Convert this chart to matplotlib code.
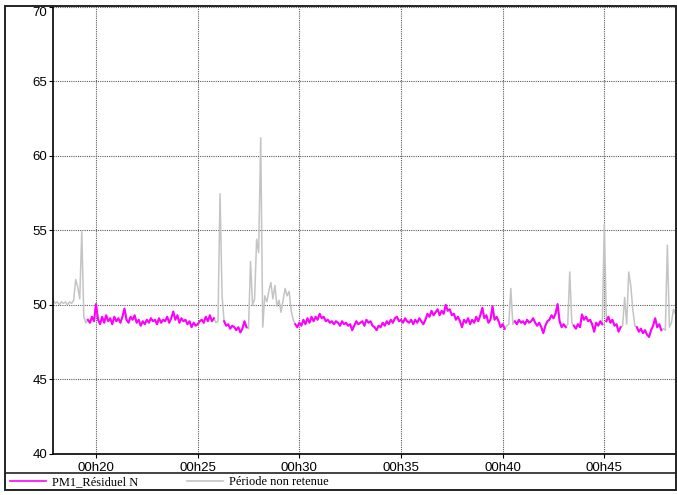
import numpy as np
import matplotlib
matplotlib.use('Agg')
import matplotlib.pyplot as plt
from matplotlib.ticker import MultipleLocator, FuncFormatter
from matplotlib.patches import Rectangle
from matplotlib.lines import Line2D


######################################################################################
# Data: one sample every 6 s (0.1 min), starting at 00h17.9
######################################################################################

t_start = 17.9   # minutes after 00h00
t_step = 0.1     # minutes

level = [
    50.3, 50.1, 50.2, 50.0, 50.2, 50.1, 50.2, 50.0, 50.2, 50.1,
    50.3, 51.7, 51.2, 50.4, 54.9, 49.2, 48.8, 49.0, 48.8, 49.2,
    48.9, 50.05, 49.0, 48.7, 49.2, 48.8, 49.3, 48.9, 49.1, 48.7,
    49.2, 48.9, 49.1, 48.8, 49.2, 49.75, 49.0, 48.8, 49.2, 49.0,
    49.3, 48.8, 49.0, 48.6, 48.9, 48.7, 49.0, 48.8, 49.1, 48.9,
    49.0, 48.7, 49.1, 48.8, 49.0, 48.9, 49.2, 48.8, 49.1, 49.55,
    49.0, 49.3, 48.8, 49.1, 48.9, 49.0, 48.7, 48.9, 48.5, 48.8,
    48.6, 48.7, 48.9, 49.0, 48.8, 49.2, 48.9, 49.3, 48.9, 49.1,
    48.8, 48.9, 57.45, 50.6, 48.9, 48.6, 48.7, 48.4, 48.6, 48.5,
    48.3, 48.5, 48.15, 48.4, 48.9, 48.5, 48.4, 52.9, 50.0, 50.4,
    54.4, 53.5, 61.2, 48.5, 50.6, 50.2, 50.9, 51.5, 50.4, 51.3,
    49.9, 50.3, 49.5, 50.3, 51.1, 50.6, 50.9, 49.6, 49.0, 48.7,
    48.5, 48.8, 48.6, 49.0, 48.7, 49.1, 48.8, 49.2, 48.9, 49.2,
    49.0, 49.4, 49.1, 49.2, 48.9, 49.0, 48.8, 48.9, 48.7, 48.9,
    48.8, 48.6, 48.9, 48.7, 48.8, 48.6, 48.7, 48.3, 48.6, 48.9,
    48.7, 48.8, 48.9, 48.6, 49.0, 48.8, 48.9, 48.6, 48.5, 48.3,
    48.6, 48.5, 48.8, 48.6, 48.9, 48.7, 49.0, 48.8, 49.1, 49.2,
    48.9, 49.0, 48.8, 49.1, 48.9, 48.8, 49.0, 48.7, 49.0, 48.8,
    49.1, 48.9, 48.7, 49.0, 49.4, 49.2, 49.6, 49.3, 49.5, 49.7,
    49.3, 49.6, 49.4, 50.0, 49.6, 49.7, 49.3, 49.4, 49.0, 49.2,
    48.9, 48.5, 49.0, 48.8, 49.1, 48.7, 49.0, 48.8, 49.2, 48.9,
    49.3, 49.8, 49.1, 49.3, 48.8, 49.0, 49.9, 49.0, 49.2, 48.9,
    48.5, 48.7, 48.4, 48.6, 48.7, 51.1, 48.7, 48.9, 48.7, 49.0,
    48.8, 48.9, 48.7, 49.0, 48.8, 48.9, 49.1, 48.8, 48.6, 48.8,
    48.5, 48.1, 48.6, 48.9, 49.0, 49.3, 49.1, 49.4, 50.05, 48.9,
    48.5, 48.7, 48.5, 48.7, 52.2, 48.8, 48.6, 48.4, 48.7, 48.5,
    49.35, 49.0, 49.2, 48.9, 49.0, 48.7, 48.2, 48.8, 48.6, 48.9,
    48.7, 55.4, 48.9, 49.2, 48.8, 49.0, 48.6, 48.7, 48.2, 48.5,
    48.6, 50.5, 48.7, 52.2, 51.3, 49.7, 48.6, 48.5, 48.2, 48.4,
    48.1, 48.3, 48.0, 47.85, 48.3, 48.6, 49.1, 48.5, 48.7, 48.3,
    48.4, 48.3, 54.0, 48.5, 48.8, 49.7, 49.4,
]

# periods kept for PM1_Résiduel N (minutes), the rest is "Période non retenue"
retained = [(19.55, 25.85), (26.25, 27.45), (29.75, 40.15), (40.55, 43.15),
            (43.45, 44.95), (45.05, 45.85), (46.55, 47.85)]

series_names = ['PM1_Résiduel N', 'Période non retenue']
y_ticks = [40, 45, 50, 55, 60, 65, 70]


def fmt_time(x, pos):
    # 20 -> '00h20'
    return f'00h{int(round(x)):02d}'


W, H = 677, 495
fig = plt.figure(figsize=(W / 100, H / 100), dpi=100)

# axes box in pixels: left 53, right 676, top 6.5, bottom 454
ax = fig.add_axes([53 / W, 1 - 454 / H, (676 - 53) / W, (454 - 6.5) / H])

values = np.asarray(level)
t = t_start + t_step * np.arange(len(values))

mask = np.zeros(len(t), dtype=bool)
for a, b in retained:
    mask |= (t >= a) & (t <= b)
kept = np.where(mask, values, np.nan)

ax.plot(t, values, color='#c4c4c4', linewidth=1.1, zorder=2)
ax.plot(t, kept, color='#ff00ff', linewidth=1.5, zorder=3)

ax.set_xlim(17.885, 48.525)
ax.set_ylim(40, 70)
ax.xaxis.set_major_locator(MultipleLocator(5))
ax.xaxis.set_major_formatter(FuncFormatter(fmt_time))
ax.set_yticks(y_ticks)
ax.set_yticklabels([str(v) for v in y_ticks])

ax.grid(True, color='#5a5a5a', linestyle=(0, (1, 1)), linewidth=0.8, zorder=1)
ax.set_axisbelow(True)

for lab in ax.get_xticklabels() + ax.get_yticklabels():
    lab.set_fontfamily('Liberation Sans')
    lab.set_fontsize(9.5)
ax.tick_params(axis='both', length=3, width=0.8, color='black', direction='out')
ax.tick_params(axis='y', pad=1)
ax.tick_params(axis='x', pad=2.5)

# the top label sits below its grid line in the original
fig.canvas.draw()
ax.get_yticklabels()[-1].set_verticalalignment('top')

for side in ['left', 'bottom']:
    ax.spines[side].set_linewidth(1.2)
for side in ['top', 'right']:
    ax.spines[side].set_visible(False)

# outer frame and legend strip
fig.patches.append(Rectangle((5.5 / W, 1 - 489.5 / H), (676 - 5.5) / W, (489.5 - 6) / H,
                             transform=fig.transFigure, fill=False,
                             edgecolor='#222222', linewidth=1.4))
fig.lines.append(Line2D([5.5 / W, 676 / W], [1 - 472.7 / H, 1 - 472.7 / H],
                        transform=fig.transFigure, color='#222222', linewidth=1.2))

handles = [Line2D([], [], color='#ff00ff', linewidth=1.2),
           Line2D([], [], color='#c4c4c4', linewidth=1.2)]
fig.legend(handles, series_names, loc='center left', ncol=2,
           bbox_to_anchor=(10 / W, 1 - 482 / H), bbox_transform=fig.transFigure,
           frameon=False, borderpad=0, borderaxespad=0, handlelength=2.9,
           handletextpad=0.45, columnspacing=3.9,
           prop={'family': 'Liberation Serif', 'size': 9})

fig.savefig('out.png', dpi=100)
